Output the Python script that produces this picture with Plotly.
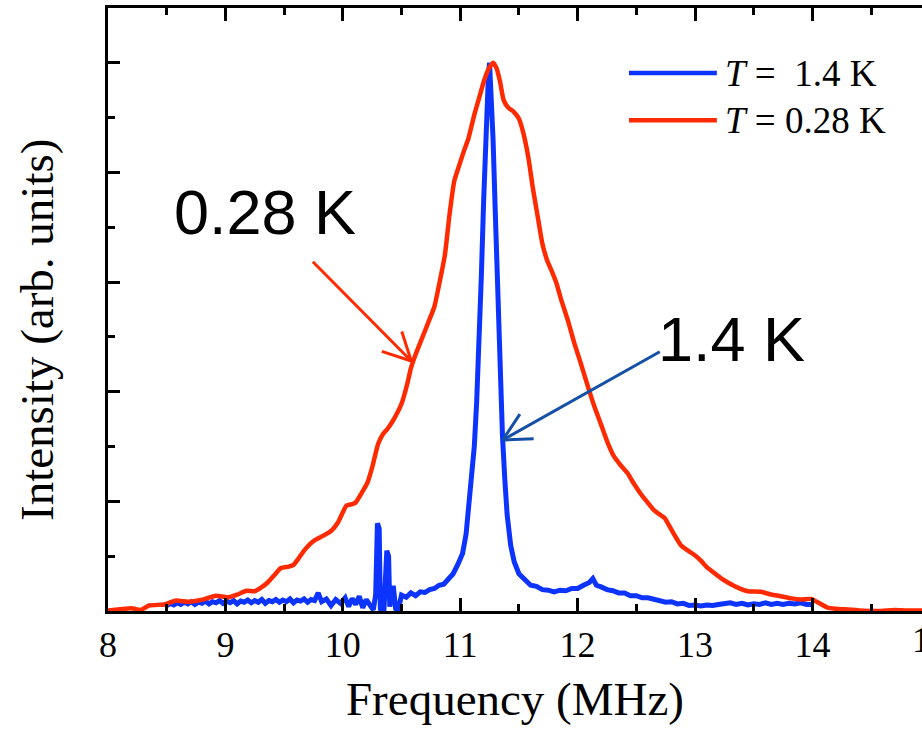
import math
import plotly.graph_objects as go

# ---------------- data ----------------
# T = 1.4 K spectrum (frequency in MHz, normalised intensity)
freq_14K = [
    8.50, 8.53, 8.56, 8.59, 8.62, 8.65, 8.68, 8.71, 8.74, 8.77, 8.80, 8.83, 8.86, 8.89, 8.92, 8.95,
    8.98, 9.01, 9.04, 9.07, 9.10, 9.13, 9.16, 9.19, 9.22, 9.25, 9.28, 9.31, 9.34, 9.37, 9.40, 9.43,
    9.46, 9.49, 9.52, 9.55, 9.58, 9.61, 9.64, 9.67, 9.70, 9.73, 9.76, 9.79, 9.82, 9.86, 9.90, 9.94,
    9.98, 10.02, 10.05, 10.08, 10.11, 10.14, 10.17, 10.20, 10.23, 10.26, 10.28, 10.295, 10.31, 10.32,
    10.35, 10.375, 10.39, 10.40, 10.43, 10.45, 10.47, 10.50, 10.54, 10.58, 10.62, 10.66, 10.70, 10.74,
    10.78, 10.82, 10.86, 10.90, 10.94, 10.98, 11.02, 11.05, 11.08, 11.10, 11.12, 11.14, 11.16, 11.18,
    11.20, 11.22, 11.24, 11.25, 11.26, 11.28, 11.30, 11.32, 11.34, 11.36, 11.38, 11.40, 11.43, 11.46,
    11.50, 11.55, 11.60, 11.65, 11.70, 11.75, 11.80, 11.85, 11.90, 11.95, 12.00, 12.05, 12.10, 12.13,
    12.16, 12.20, 12.25, 12.30, 12.35, 12.40, 12.45, 12.50, 12.55, 12.60, 12.65, 12.70, 12.75, 12.80,
    12.85, 12.90, 12.95, 13.00, 13.05, 13.10, 13.15, 13.20, 13.25, 13.30, 13.35, 13.40, 13.45, 13.50,
    13.55, 13.60, 13.65, 13.70, 13.75, 13.80, 13.85, 13.90, 13.95, 14.00,
]
intensity_14K = [
    0.010, 0.014, 0.011, 0.015, 0.012, 0.016, 0.013, 0.017, 0.012, 0.016, 0.014, 0.018, 0.013, 0.017, 0.015, 0.019,
    0.014, 0.018, 0.015, 0.019, 0.013, 0.018, 0.016, 0.020, 0.015, 0.019, 0.016, 0.021, 0.014, 0.019, 0.017, 0.021,
    0.016, 0.020, 0.017, 0.022, 0.015, 0.020, 0.018, 0.022, 0.016, 0.021, 0.019, 0.033, 0.017, 0.022, 0.010, 0.021,
    0.014, 0.024, 0.008, 0.023, 0.012, 0.027, 0.006, 0.021, 0.011, 0.002, 0.030, 0.160, 0.150, 0.004,
    0.000, 0.110, 0.100, 0.008, 0.046, 0.004, 0.000, 0.029, 0.025, 0.033, 0.028, 0.035, 0.034, 0.039,
    0.041, 0.047, 0.049, 0.058, 0.068, 0.085, 0.105, 0.140, 0.200, 0.250, 0.300, 0.380, 0.480, 0.610,
    0.750, 0.880, 0.975, 1.000, 0.960, 0.860, 0.720, 0.580, 0.440, 0.320, 0.240, 0.175, 0.120, 0.090,
    0.068, 0.056, 0.047, 0.045, 0.039, 0.038, 0.035, 0.038, 0.037, 0.041, 0.041, 0.047, 0.052, 0.059,
    0.047, 0.044, 0.039, 0.037, 0.033, 0.033, 0.028, 0.028, 0.024, 0.024, 0.021, 0.020, 0.016, 0.017,
    0.013, 0.014, 0.010, 0.011, 0.009, 0.011, 0.010, 0.012, 0.014, 0.015, 0.012, 0.014, 0.011, 0.013,
    0.012, 0.015, 0.012, 0.014, 0.012, 0.014, 0.013, 0.015, 0.012, 0.012,
]

# T = 0.28 K spectrum
freq_028K = [
    8.00, 8.10, 8.20, 8.28, 8.35, 8.48, 8.58, 8.68, 8.79, 8.92, 9.02, 9.10, 9.18, 9.25, 9.30, 9.36,
    9.42, 9.47, 9.54, 9.58, 9.63, 9.67, 9.72, 9.76, 9.83, 9.90, 9.96, 10.00, 10.03, 10.08, 10.11, 10.16,
    10.21, 10.25, 10.30, 10.34, 10.38, 10.44, 10.50, 10.55, 10.58, 10.62, 10.67, 10.72, 10.78, 10.82,
    10.87, 10.91, 10.95, 10.99, 11.03, 11.07, 11.12, 11.16, 11.20, 11.24, 11.28, 11.31, 11.34, 11.37,
    11.41, 11.45, 11.50, 11.54, 11.58, 11.62, 11.66, 11.70, 11.74, 11.78, 11.82, 11.86, 11.92, 11.97,
    12.03, 12.09, 12.14, 12.20, 12.26, 12.31, 12.37, 12.43, 12.48, 12.54, 12.60, 12.65, 12.70, 12.74,
    12.80, 12.88, 12.94, 12.99, 13.05, 13.10, 13.16, 13.22, 13.28, 13.36, 13.45, 13.56, 13.65, 13.73,
    13.82, 13.90, 13.99, 14.06, 14.13, 14.20, 14.27, 14.40, 14.56, 14.70, 14.80, 14.94,
]
intensity_028K = [
    0.001, 0.003, 0.005, 0.002, 0.010, 0.012, 0.019, 0.017, 0.020, 0.028, 0.025, 0.030, 0.037, 0.036, 0.042, 0.052,
    0.066, 0.078, 0.081, 0.084, 0.098, 0.110, 0.122, 0.129, 0.137, 0.146, 0.162, 0.180, 0.192, 0.195, 0.198, 0.215,
    0.234, 0.262, 0.304, 0.322, 0.332, 0.352, 0.378, 0.415, 0.443, 0.468, 0.495, 0.522, 0.555, 0.595,
    0.650, 0.725, 0.785, 0.812, 0.838, 0.862, 0.905, 0.935, 0.965, 0.988, 1.000, 0.990, 0.965, 0.932,
    0.918, 0.912, 0.898, 0.870, 0.828, 0.770, 0.720, 0.670, 0.640, 0.620, 0.598, 0.568, 0.528, 0.490,
    0.450, 0.408, 0.375, 0.340, 0.305, 0.282, 0.265, 0.250, 0.232, 0.213, 0.197, 0.184, 0.176, 0.170,
    0.148, 0.120, 0.110, 0.103, 0.092, 0.080, 0.070, 0.060, 0.052, 0.043, 0.036, 0.035, 0.030, 0.027,
    0.023, 0.021, 0.022, 0.014, 0.006, 0.004, 0.003, 0.001, 0.000, 0.002, 0.001, 0.001,
]

series_names = ["T =  1.4 K", "T = 0.28 K"]
x_ticks = [8, 9, 10, 11, 12, 13, 14, 15]

# ---------------- layout constants ----------------
W, H = 922, 736
ML, MR, MT, MB = 108, 0, 8, 125
PLOT_W = W - ML - MR
PLOT_H = H - MT - MB
PX_PER_MHZ = 117.4
X_RANGE = [8, 8 + PLOT_W / PX_PER_MHZ]
Y_RANGE = [0, 1.1]

BLUE = "#0d33ff"
RED = "#ff2a00"
ARROW_BLUE = "#1450a6"
SERIF = "Liberation Serif, Times New Roman, serif"
SANS = "Liberation Sans, Arial, sans-serif"

fig = go.Figure()
fig.add_trace(go.Scatter(x=freq_14K, y=intensity_14K, mode="lines", name=series_names[0],
                         line=dict(color=BLUE, width=5), showlegend=False))
fig.add_trace(go.Scatter(x=freq_028K, y=intensity_028K, mode="lines", name=series_names[1],
                         line=dict(color=RED, width=4.5, shape="spline", smoothing=0.5), showlegend=False))


def to_px(x, y):
    return (ML + (x - X_RANGE[0]) / (X_RANGE[1] - X_RANGE[0]) * PLOT_W,
            MT + PLOT_H - (y - Y_RANGE[0]) / (Y_RANGE[1] - Y_RANGE[0]) * PLOT_H)


def to_data(px, py):
    return (X_RANGE[0] + (px - ML) / PLOT_W * (X_RANGE[1] - X_RANGE[0]),
            Y_RANGE[0] + (MT + PLOT_H - py) / PLOT_H * (Y_RANGE[1] - Y_RANGE[0]))


def open_arrow(tail, tip, color, head_len=31, half_angle=27, width=3):
    """Straight arrow with an open V-shaped head, given in data coordinates."""
    tx, ty = to_px(*tail)
    hx, hy = to_px(*tip)
    back = math.atan2(ty - hy, tx - hx)
    segs = [(tail, tip)]
    for sgn in (-1, 1):
        a = back + sgn * math.radians(half_angle)
        bx, by = hx + head_len * math.cos(a), hy + head_len * math.sin(a)
        segs.append((to_data(bx, by), tip))
    for (x0, y0), (x1, y1) in segs:
        fig.add_shape(type="line", xref="x", yref="y", x0=x0, y0=y0, x1=x1, y1=y1,
                      line=dict(color=color, width=width), layer="above")


# arrows pointing from the labels to the curves
open_arrow((9.745, 0.637), (10.583, 0.456), RED)
open_arrow((12.70, 0.473), (11.362, 0.312), ARROW_BLUE)

# curve labels
fig.add_annotation(x=9.337, y=0.728, xref="x", yref="y", text="0.28 K", showarrow=False,
                   font=dict(family=SANS, size=63, color="black"))
fig.add_annotation(x=13.315, y=0.497, xref="x", yref="y", text="1.4 K", showarrow=False,
                   font=dict(family=SANS, size=63, color="black"))

# legend drawn as sample lines with labels
legend_rows = [(0.892, BLUE, "<i>T</i>\u00a0=\u00a0\u00a01.4 K"),
               (0.814, RED, "<i>T</i>\u00a0=\u00a00.28 K")]
for y_leg, col, label in legend_rows:
    fig.add_shape(type="line", xref="paper", yref="paper", x0=0.640, x1=0.748, y0=y_leg, y1=y_leg,
                  line=dict(color=col, width=4.5))
    fig.add_annotation(x=0.755, y=y_leg, xref="paper", yref="paper", text=label, showarrow=False,
                       xanchor="left", yanchor="middle",
                       font=dict(family=SERIF, size=37, color="black"))

# y-axis title
fig.add_annotation(x=-0.0872, y=0.466, xref="paper", yref="paper", text="Intensity (arb. units)",
                   showarrow=False, textangle=-90, xanchor="center", yanchor="middle",
                   font=dict(family=SERIF, size=47, color="black"))

# tick label of the last major tick, partly beyond the right edge
fig.add_annotation(x=(x_ticks[-1] - X_RANGE[0]) / (X_RANGE[1] - X_RANGE[0]), y=0, xref="paper", yref="paper",
                   text=str(x_ticks[-1]), showarrow=False, xanchor="center", yanchor="top", yshift=-7,
                   font=dict(family=SERIF, size=36, color="black"))

fig.update_layout(
    width=W, height=H,
    margin=dict(l=ML, r=MR, t=MT, b=MB, pad=0),
    paper_bgcolor="white", plot_bgcolor="white",
    showlegend=False,
    xaxis=dict(
        range=X_RANGE, tickvals=x_ticks[:-1], ticktext=[str(v) for v in x_ticks[:-1]],
        ticks="inside", ticklen=13, tickwidth=3, tickcolor="black",
        minor=dict(dtick=0.5, ticks="inside", ticklen=7, tickwidth=3, tickcolor="black"),
        showline=True, linewidth=3, linecolor="black", mirror="ticks",
        showgrid=False, zeroline=False,
        tickfont=dict(family=SERIF, size=36, color="black"),
        title=dict(text="Frequency (MHz)", font=dict(family=SERIF, size=47, color="black"), standoff=18),
    ),
    yaxis=dict(
        range=Y_RANGE, tick0=0, dtick=0.2, ticks="inside", ticklen=12, tickwidth=3, tickcolor="black",
        minor=dict(dtick=0.1, ticks="inside", ticklen=7, tickwidth=3, tickcolor="black"),
        showline=True, linewidth=3, linecolor="black", mirror=False,
        showgrid=False, zeroline=False, showticklabels=False,
    ),
)

fig.write_html("out.html")
